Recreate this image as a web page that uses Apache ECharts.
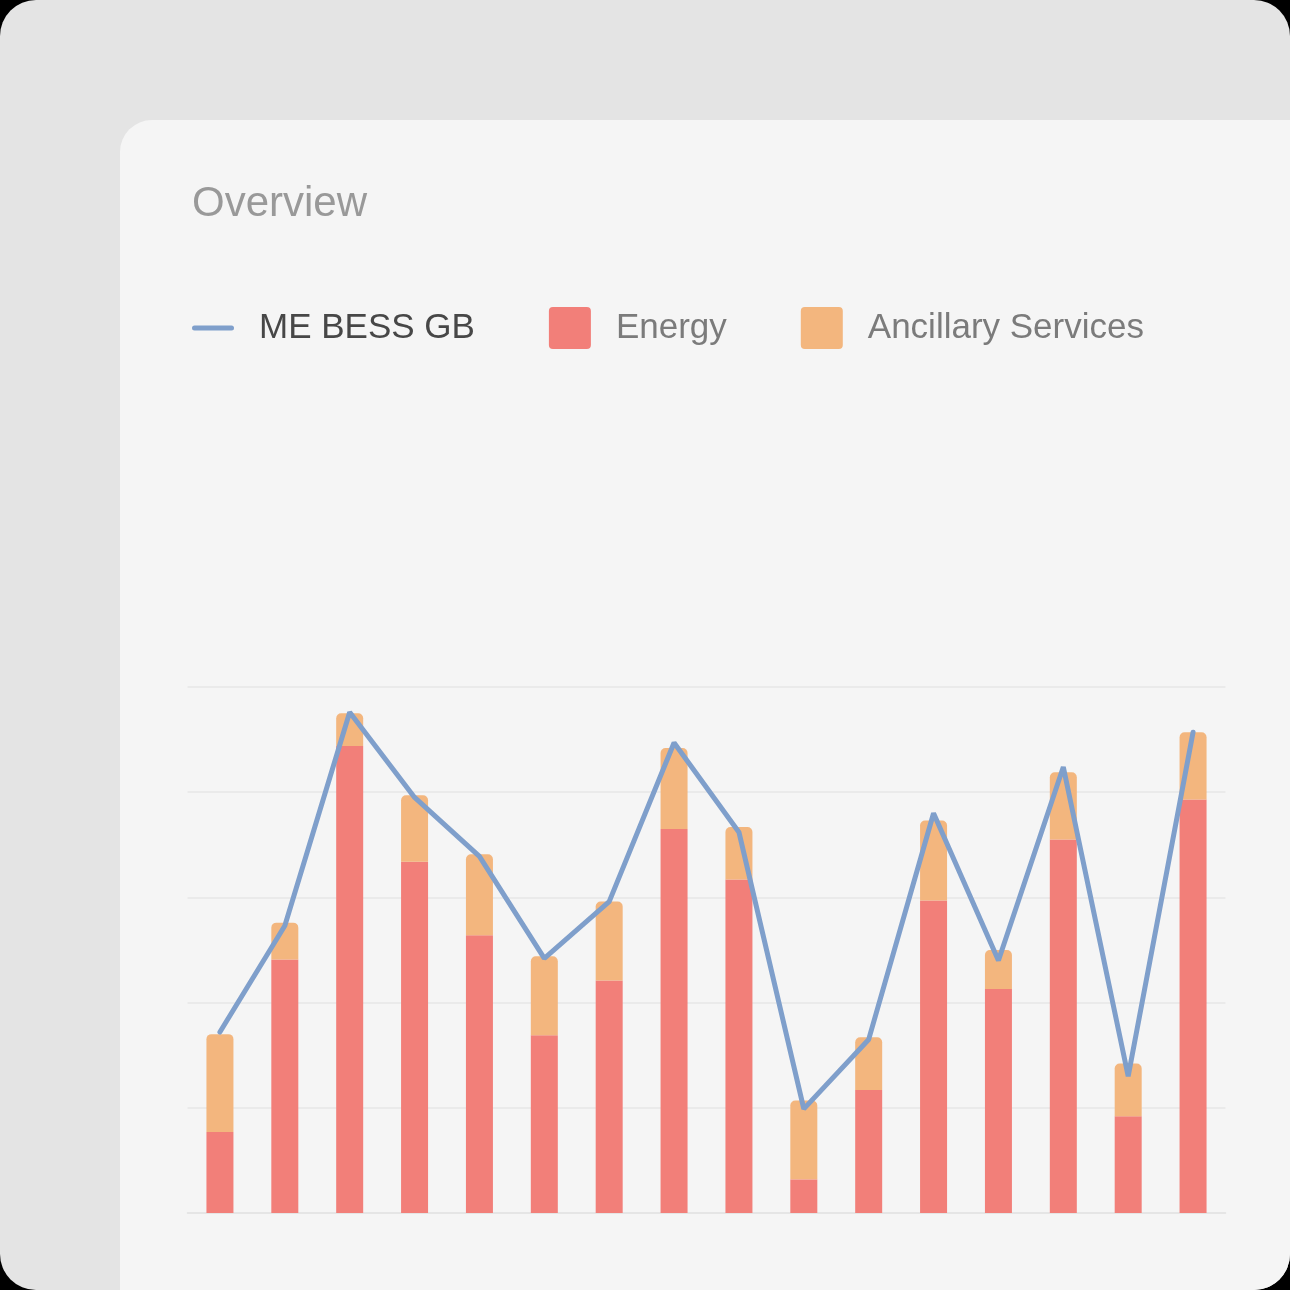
<!DOCTYPE html>
<html>
<head>
<meta charset="utf-8">
<script src="https://cdn.jsdelivr.net/npm/echarts@6/dist/echarts.min.js"></script>
<style>
  html, body { margin: 0; padding: 0; background: #000; width: 1290px; height: 1290px; overflow: hidden; }
  #frame { position: absolute; left: 0; top: 0; width: 1290px; height: 1290px; background: #e4e4e4; border-radius: 36px; }
  #card { position: absolute; left: 120px; top: 120px; width: 1170px; height: 1170px; background: #f5f5f5; border-top-left-radius: 32px; border-bottom-right-radius: 36px; }
  #chart { position: absolute; left: 0; top: 0; width: 1290px; height: 1290px; }
</style>
</head>
<body>
<div id="frame"></div>
<div id="card"></div>
<div id="chart"></div>
<script>
const categories = ['P1','P2','P3','P4','P5','P6','P7','P8','P9','P10','P11','P12','P13','P14','P15','P16'];
const energyValues = [0.77, 2.41, 4.44, 3.34, 2.64, 1.69, 2.21, 3.65, 3.17, 0.32, 1.17, 2.97, 2.13, 3.55, 0.92, 3.93];
const ancillaryValues = [0.93, 0.35, 0.31, 0.63, 0.77, 0.75, 0.75, 0.77, 0.50, 0.75, 0.50, 0.76, 0.37, 0.64, 0.50, 0.64];
const bessValues = [1.72, 2.73, 4.76, 3.95, 3.39, 2.42, 2.96, 4.47, 3.62, 0.99, 1.65, 3.80, 2.40, 4.24, 1.30, 4.57];

const FONT = '"Liberation Sans", Arial, sans-serif';
const roundSquare = 'path://M4,0 H38 A4,4 0 0 1 42,4 V38 A4,4 0 0 1 38,42 H4 A4,4 0 0 1 0,38 V4 A4,4 0 0 1 4,0 Z';
const lineIcon = 'path://M2.5,0 H39.5 A2.5,2.5 0 0 1 39.5,5 H2.5 A2.5,2.5 0 0 1 2.5,0 Z';

const chart = echarts.init(document.getElementById('chart'), null, { renderer: 'canvas' });
chart.setOption({
  backgroundColor: 'transparent',
  animation: false,
  title: {
    text: 'Overview',
    left: 192,
    top: 183,
    padding: 0,
    textStyle: { fontFamily: FONT, fontSize: 42, fontWeight: 'normal', color: '#999999' }
  },
  legend: {
    left: 192,
    top: 307,
    padding: 0,
    itemWidth: 42,
    itemHeight: 42,
    itemGap: 74,
    symbolKeepAspect: true,
    textStyle: { fontFamily: FONT, fontSize: 35, color: '#7b7b7b', padding: [0, 0, 0, 20] },
    data: [
      { name: 'ME BESS GB', icon: lineIcon, textStyle: { color: '#474747' } },
      { name: 'Energy', icon: roundSquare },
      { name: 'Ancillary Services', icon: roundSquare }
    ]
  },
  grid: { left: 187.5, right: 64.5, top: 687, bottom: 77, containLabel: false },
  xAxis: {
    type: 'category',
    data: categories,
    axisLine: { show: true, lineStyle: { color: '#e2e2e2', width: 1.5 } },
    axisTick: { show: false },
    axisLabel: { show: false },
    splitLine: { show: false }
  },
  yAxis: {
    type: 'value',
    min: 0,
    max: 5,
    interval: 1,
    axisLine: { show: false },
    axisTick: { show: false },
    axisLabel: { show: false },
    splitLine: { show: true, lineStyle: { color: '#e6e6e6', width: 1.5 } }
  },
  series: [
    {
      name: 'ME BESS GB',
      type: 'line',
      data: bessValues,
      symbol: 'none',
      z: 5,
      itemStyle: { color: '#7f9fcb' },
      lineStyle: { color: '#7f9fcb', width: 5, cap: 'round' }
    },
    {
      name: 'Energy',
      type: 'bar',
      stack: 'total',
      barWidth: 27,
      data: energyValues,
      itemStyle: { color: '#f27f79' }
    },
    {
      name: 'Ancillary Services',
      type: 'bar',
      stack: 'total',
      barWidth: 27,
      data: ancillaryValues,
      itemStyle: { color: '#f3b67e', borderRadius: [5, 5, 0, 0] }
    }
  ]
});
</script>
</body>
</html>
